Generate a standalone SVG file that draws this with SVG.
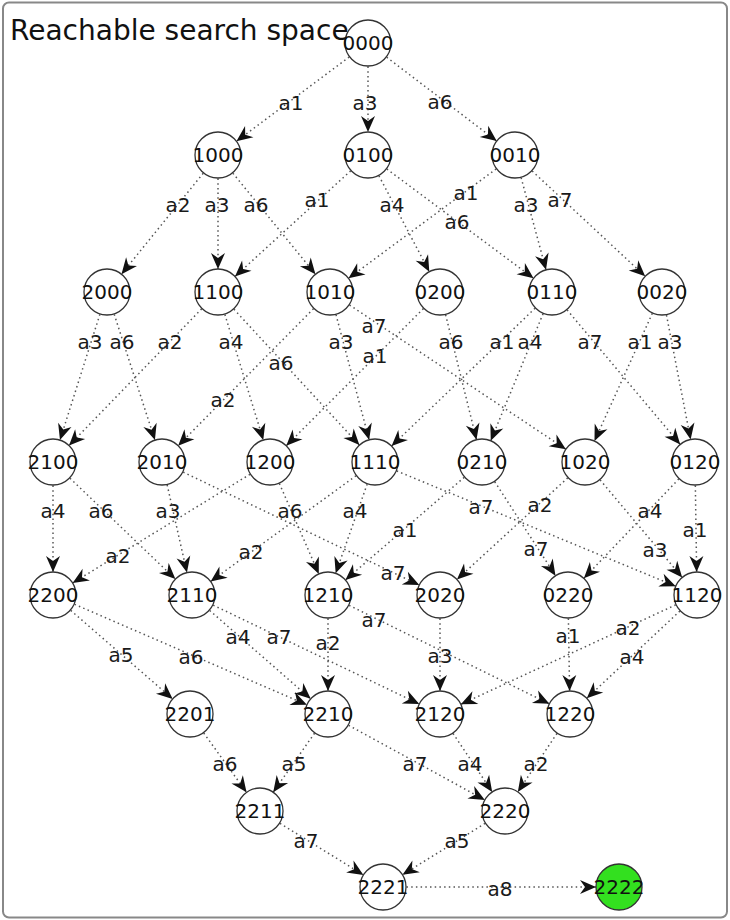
<svg xmlns="http://www.w3.org/2000/svg" width="730" height="920" viewBox="0 0 730 920">
<style>
.e{stroke:#555;stroke-width:1.5;stroke-dasharray:1.5 3.2;fill:none;marker-end:url(#ah)}
.l{font-family:"DejaVu Sans",sans-serif;font-size:20px;fill:#1a1a1a;text-anchor:middle}
.n circle{fill:#fff;stroke:#333;stroke-width:1.3}
.n text{font-family:"DejaVu Sans",sans-serif;font-size:20px;fill:#111;text-anchor:middle}
.t{font-family:"DejaVu Sans",sans-serif;font-size:28px;fill:#111}
</style>
<defs>
<marker id="ah" markerUnits="userSpaceOnUse" markerWidth="40" markerHeight="20" viewBox="-40 -10 40 20" refX="0" refY="0" orient="auto" overflow="visible">
<path d="M-23,0 L-39,-7 L-34,0 L-39,7 Z" fill="#111"/>
</marker>
</defs>
<rect x="3" y="2.5" width="724" height="915" rx="6" fill="#fff" stroke="#888" stroke-width="2"/>
<g id="connectors">
<line class="e" x1="368" y1="43" x2="218" y2="155"/><text class="l" x="291" y="110">a1</text>
<line class="e" x1="368" y1="43" x2="368" y2="155"/><text class="l" x="365" y="110">a3</text>
<line class="e" x1="368" y1="43" x2="515" y2="155"/><text class="l" x="440" y="109">a6</text>
<line class="e" x1="218" y1="155" x2="107" y2="292"/><text class="l" x="178" y="212">a2</text>
<line class="e" x1="218" y1="155" x2="218" y2="292"/><text class="l" x="217" y="212">a3</text>
<line class="e" x1="218" y1="155" x2="330" y2="292"/><text class="l" x="256" y="212">a6</text>
<line class="e" x1="368" y1="155" x2="218" y2="292"/><text class="l" x="317" y="207">a1</text>
<line class="e" x1="368" y1="155" x2="440" y2="292"/><text class="l" x="392" y="212">a4</text>
<line class="e" x1="368" y1="155" x2="552" y2="292"/><text class="l" x="457" y="229">a6</text>
<line class="e" x1="515" y1="155" x2="330" y2="292"/><text class="l" x="466" y="200">a1</text>
<line class="e" x1="515" y1="155" x2="552" y2="292"/><text class="l" x="526" y="212">a3</text>
<line class="e" x1="515" y1="155" x2="662" y2="292"/><text class="l" x="560" y="207">a7</text>
<line class="e" x1="107" y1="292" x2="53" y2="462"/><text class="l" x="90" y="349">a3</text>
<line class="e" x1="107" y1="292" x2="162" y2="462"/><text class="l" x="122" y="349">a6</text>
<line class="e" x1="218" y1="292" x2="53" y2="462"/><text class="l" x="170" y="349">a2</text>
<line class="e" x1="218" y1="292" x2="270" y2="462"/><text class="l" x="231" y="349">a4</text>
<line class="e" x1="218" y1="292" x2="375" y2="462"/><text class="l" x="281" y="370">a6</text>
<line class="e" x1="330" y1="292" x2="162" y2="462"/><text class="l" x="223" y="407">a2</text>
<line class="e" x1="330" y1="292" x2="375" y2="462"/><text class="l" x="341" y="349">a3</text>
<line class="e" x1="330" y1="292" x2="585" y2="462"/><text class="l" x="374" y="333">a7</text>
<line class="e" x1="440" y1="292" x2="270" y2="462"/><text class="l" x="375" y="363">a1</text>
<line class="e" x1="440" y1="292" x2="482" y2="462"/><text class="l" x="451" y="349">a6</text>
<line class="e" x1="552" y1="292" x2="375" y2="462"/><text class="l" x="502" y="349">a1</text>
<line class="e" x1="552" y1="292" x2="482" y2="462"/><text class="l" x="530" y="349">a4</text>
<line class="e" x1="552" y1="292" x2="695" y2="462"/><text class="l" x="590" y="349">a7</text>
<line class="e" x1="662" y1="292" x2="585" y2="462"/><text class="l" x="640" y="349">a1</text>
<line class="e" x1="662" y1="292" x2="695" y2="462"/><text class="l" x="670" y="349">a3</text>
<line class="e" x1="53" y1="462" x2="53" y2="595"/><text class="l" x="53" y="518">a4</text>
<line class="e" x1="53" y1="462" x2="192" y2="595"/><text class="l" x="101" y="518">a6</text>
<line class="e" x1="162" y1="462" x2="192" y2="595"/><text class="l" x="168" y="518">a3</text>
<line class="e" x1="162" y1="462" x2="440" y2="595"/><text class="l" x="393" y="580">a7</text>
<line class="e" x1="270" y1="462" x2="53" y2="595"/><text class="l" x="118" y="563">a2</text>
<line class="e" x1="270" y1="462" x2="328" y2="595"/><text class="l" x="290" y="518">a6</text>
<line class="e" x1="375" y1="462" x2="192" y2="595"/><text class="l" x="251" y="559">a2</text>
<line class="e" x1="375" y1="462" x2="328" y2="595"/><text class="l" x="355" y="518">a4</text>
<line class="e" x1="375" y1="462" x2="697" y2="595"/><text class="l" x="481" y="514">a7</text>
<line class="e" x1="482" y1="462" x2="328" y2="595"/><text class="l" x="405" y="537">a1</text>
<line class="e" x1="482" y1="462" x2="568" y2="595"/><text class="l" x="536" y="556">a7</text>
<line class="e" x1="585" y1="462" x2="440" y2="595"/><text class="l" x="540" y="512">a2</text>
<line class="e" x1="585" y1="462" x2="697" y2="595"/><text class="l" x="655" y="557">a3</text>
<line class="e" x1="695" y1="462" x2="697" y2="595"/><text class="l" x="695" y="537">a1</text>
<line class="e" x1="695" y1="462" x2="568" y2="595"/><text class="l" x="650" y="518">a4</text>
<line class="e" x1="53" y1="595" x2="190" y2="714"/><text class="l" x="121" y="662">a5</text>
<line class="e" x1="53" y1="595" x2="328" y2="714"/><text class="l" x="191" y="664">a6</text>
<line class="e" x1="192" y1="595" x2="328" y2="714"/><text class="l" x="238" y="644">a4</text>
<line class="e" x1="192" y1="595" x2="440" y2="714"/><text class="l" x="279" y="644">a7</text>
<line class="e" x1="328" y1="595" x2="328" y2="714"/><text class="l" x="328" y="650">a2</text>
<line class="e" x1="328" y1="595" x2="570" y2="714"/><text class="l" x="374" y="627">a7</text>
<line class="e" x1="440" y1="595" x2="440" y2="714"/><text class="l" x="440" y="663">a3</text>
<line class="e" x1="568" y1="595" x2="570" y2="714"/><text class="l" x="568" y="643">a1</text>
<line class="e" x1="697" y1="595" x2="440" y2="714"/><text class="l" x="628" y="635">a2</text>
<line class="e" x1="697" y1="595" x2="570" y2="714"/><text class="l" x="632" y="664">a4</text>
<line class="e" x1="190" y1="714" x2="260" y2="811"/><text class="l" x="225" y="771">a6</text>
<line class="e" x1="328" y1="714" x2="260" y2="811"/><text class="l" x="294" y="771">a5</text>
<line class="e" x1="328" y1="714" x2="505" y2="811"/><text class="l" x="415" y="771">a7</text>
<line class="e" x1="440" y1="714" x2="505" y2="811"/><text class="l" x="470" y="771">a4</text>
<line class="e" x1="570" y1="714" x2="505" y2="811"/><text class="l" x="536" y="771">a2</text>
<line class="e" x1="260" y1="811" x2="383" y2="887"/><text class="l" x="306" y="848">a7</text>
<line class="e" x1="505" y1="811" x2="383" y2="887"/><text class="l" x="457" y="848">a5</text>
<line class="e" x1="383" y1="887" x2="619" y2="887"/><text class="l" x="500" y="896">a8</text>
</g>
<g id="n0000" class="n"><circle cx="368" cy="43" r="23"/><text x="368" y="50">0000</text></g>
<g id="n1000" class="n"><circle cx="218" cy="155" r="23"/><text x="218" y="162">1000</text></g>
<g id="n0100" class="n"><circle cx="368" cy="155" r="23"/><text x="368" y="162">0100</text></g>
<g id="n0010" class="n"><circle cx="515" cy="155" r="23"/><text x="515" y="162">0010</text></g>
<g id="n2000" class="n"><circle cx="107" cy="292" r="23"/><text x="107" y="299">2000</text></g>
<g id="n1100" class="n"><circle cx="218" cy="292" r="23"/><text x="218" y="299">1100</text></g>
<g id="n1010" class="n"><circle cx="330" cy="292" r="23"/><text x="330" y="299">1010</text></g>
<g id="n0200" class="n"><circle cx="440" cy="292" r="23"/><text x="440" y="299">0200</text></g>
<g id="n0110" class="n"><circle cx="552" cy="292" r="23"/><text x="552" y="299">0110</text></g>
<g id="n0020" class="n"><circle cx="662" cy="292" r="23"/><text x="662" y="299">0020</text></g>
<g id="n2100" class="n"><circle cx="53" cy="462" r="23"/><text x="53" y="469">2100</text></g>
<g id="n2010" class="n"><circle cx="162" cy="462" r="23"/><text x="162" y="469">2010</text></g>
<g id="n1200" class="n"><circle cx="270" cy="462" r="23"/><text x="270" y="469">1200</text></g>
<g id="n1110" class="n"><circle cx="375" cy="462" r="23"/><text x="375" y="469">1110</text></g>
<g id="n0210" class="n"><circle cx="482" cy="462" r="23"/><text x="482" y="469">0210</text></g>
<g id="n1020" class="n"><circle cx="585" cy="462" r="23"/><text x="585" y="469">1020</text></g>
<g id="n0120" class="n"><circle cx="695" cy="462" r="23"/><text x="695" y="469">0120</text></g>
<g id="n2200" class="n"><circle cx="53" cy="595" r="23"/><text x="53" y="602">2200</text></g>
<g id="n2110" class="n"><circle cx="192" cy="595" r="23"/><text x="192" y="602">2110</text></g>
<g id="n1210" class="n"><circle cx="328" cy="595" r="23"/><text x="328" y="602">1210</text></g>
<g id="n2020" class="n"><circle cx="440" cy="595" r="23"/><text x="440" y="602">2020</text></g>
<g id="n0220" class="n"><circle cx="568" cy="595" r="23"/><text x="568" y="602">0220</text></g>
<g id="n1120" class="n"><circle cx="697" cy="595" r="23"/><text x="697" y="602">1120</text></g>
<g id="n2201" class="n"><circle cx="190" cy="714" r="23"/><text x="190" y="721">2201</text></g>
<g id="n2210" class="n"><circle cx="328" cy="714" r="23"/><text x="328" y="721">2210</text></g>
<g id="n2120" class="n"><circle cx="440" cy="714" r="23"/><text x="440" y="721">2120</text></g>
<g id="n1220" class="n"><circle cx="570" cy="714" r="23"/><text x="570" y="721">1220</text></g>
<g id="n2211" class="n"><circle cx="260" cy="811" r="23"/><text x="260" y="818">2211</text></g>
<g id="n2220" class="n"><circle cx="505" cy="811" r="23"/><text x="505" y="818">2220</text></g>
<g id="n2221" class="n"><circle cx="383" cy="887" r="23"/><text x="383" y="894">2221</text></g>
<g id="n2222" class="n"><circle cx="619" cy="887" r="23" style="fill:#33e01f"/><text x="619" y="894">2222</text></g>
<text class="t" x="10" y="40">Reachable search space</text>
</svg>
